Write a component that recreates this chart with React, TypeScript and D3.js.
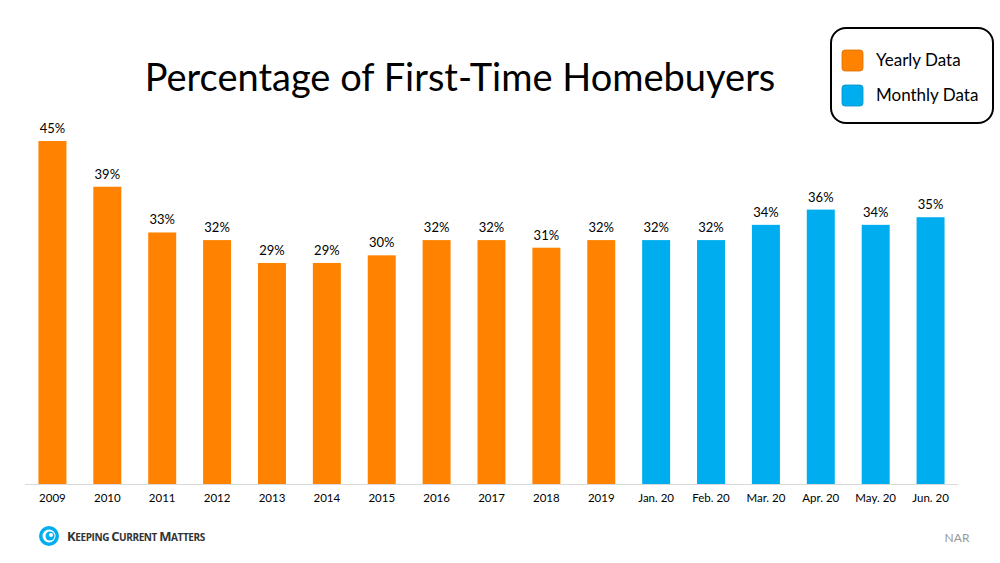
import React from "react";
import * as d3 from "d3";

const categories = ["2009","2010","2011","2012","2013","2014","2015","2016","2017","2018","2019","Jan. 20","Feb. 20","Mar. 20","Apr. 20","May. 20","Jun. 20"];
const values = [45,39,33,32,29,29,30,32,32,31,32,32,32,34,36,34,35];
const seriesType = ["y","y","y","y","y","y","y","y","y","y","y","m","m","m","m","m","m"];
const legendItems = [{ key: "y", label: "Yearly Data" }, { key: "m", label: "Monthly Data" }];

const ORANGE = "#FF8300";
const BLUE = "#00AEEF";
const FONT = "Lato, 'Open Sans', sans-serif";

export default function App() {
  const W = 1000, H = 563;
  const x = d3.scaleBand<string>().domain(categories).range([25, 958]).paddingInner(0.49).paddingOuter(0.245);
  const y = d3.scaleLinear().domain([0, 45]).range([484, 141]);
  const color = (t: string) => (t === "y" ? ORANGE : BLUE);

  return (
    <svg width={W} height={H} style={{ position: "absolute", left: 0, top: 0, background: "#fff" }} fontFamily={FONT}>
      <rect width={W} height={H} fill="#fff" />
      <text x={460} y={91} textAnchor="middle" fontSize={38} fill="#000">Percentage of First-Time Homebuyers</text>
      {values.map((v, i) => (
        <g key={categories[i]}>
          <rect x={x(categories[i])} y={y(v)} width={x.bandwidth()} height={y(0) - y(v)} fill={color(seriesType[i])} />
          <text x={(x(categories[i]) as number) + x.bandwidth() / 2} y={y(v) - 8} textAnchor="middle" fontSize={13} fill="#000">{v}%</text>
          <text x={(x(categories[i]) as number) + x.bandwidth() / 2} y={502} textAnchor="middle" fontSize={11.5} fill="#000">{categories[i]}</text>
        </g>
      ))}
      <line x1={25} x2={958} y1={484.5} y2={484.5} stroke="#d9d9d9" strokeWidth={1} />
      <rect x={831} y={28} width={162} height={95} rx={15} fill="#fff" stroke="#000" strokeWidth={2} />
      {legendItems.map((it, i) => (
        <g key={it.key}>
          <rect x={842} y={50 + i * 35} width={21} height={21} rx={3} fill={color(it.key)} stroke={it.key === "y" ? "#d86e00" : "#0090c8"} strokeWidth={0.8} />
          <text x={876} y={66 + i * 35} fontSize={17} fill="#000">{it.label}</text>
        </g>
      ))}
      <g>
        <circle cx={49} cy={536} r={10} fill={BLUE} />
        <circle cx={49} cy={536} r={6.5} fill="#fff" />
        <circle cx={50} cy={536} r={4.5} fill={BLUE} />
        <circle cx={51} cy={535} r={2} fill="#fff" />
        <text x={67} y={541} fontSize={13} fontWeight={700} fill="#333" fontFamily="'Open Sans', sans-serif" letterSpacing={-0.4}>
          K<tspan fontSize={10}>EEPING </tspan>C<tspan fontSize={10}>URRENT </tspan>M<tspan fontSize={10}>ATTERS</tspan>
        </text>
      </g>
      <text x={957} y={542} textAnchor="middle" fontSize={12} fill="#999">NAR</text>
    </svg>
  );
}
